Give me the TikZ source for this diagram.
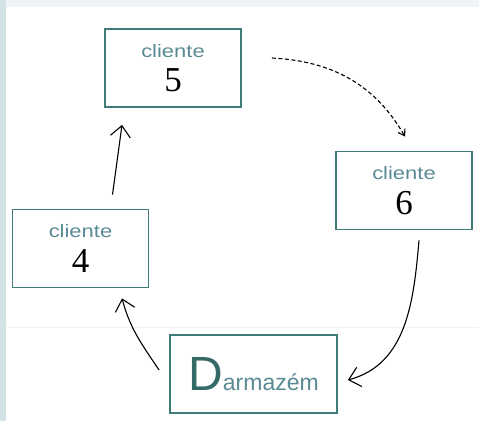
\documentclass[tikz,border=0pt]{standalone}
\usepackage{fontspec}
\setmainfont{Liberation Serif}
\newfontfamily\rotulo[FakeStretch=1.22]{Liberation Sans}
\newfontfamily\deposito{Liberation Sans}
\usetikzlibrary{arrows.meta}
\definecolor{verde}{HTML}{3E7B79}
\definecolor{cinza}{HTML}{5A8A94}
\definecolor{faixa}{HTML}{D3E3E5}
\definecolor{topo}{HTML}{EEF4F5}
\newcommand{\cliente}[1]{{\color{cinza}\rotulo\fontsize{18}{20}\selectfont cliente}\\[10pt]
  {\fontsize{35}{36}\selectfont #1}}

\begin{document}
\begin{tikzpicture}[x=1pt,y=1pt,
    caixa/.style={draw=verde,line width=1.8pt,minimum width=136pt,
      minimum height=78pt,align=center,inner sep=0pt},
    seta/.style={-{Straight Barb[length=11pt,width=20pt]},line width=1.1pt}]
  \useasboundingbox (0,0) rectangle (479,421);
  % fundo
  \fill[faixa] (0,0) rectangle (6,421);
  \fill[topo] (6,414) rectangle (479,421);
  \draw[topo] (6,94) -- (479,94);
  % clientes e deposito
  \node[caixa] (c5) at (173,353) {\cliente{5}};
  \node[caixa] (c6) at (404,230.5) {\cliente{6}};
  \node[caixa] (c4) at (80.5,172.5) {\cliente{4}};
  \node[caixa,minimum width=167pt] (arm) at (253.5,47)
    {{\color{verde!85!black}\deposito\fontsize{48}{48}\selectfont D}%
     {\color{cinza}\deposito\fontsize{23}{23}\selectfont armazém}};
  % rota
  \draw[seta] ([xshift=32pt,yshift=14pt]c4.north) -- ([xshift=-51pt,yshift=-17pt]c5.south);
  \draw[seta,dash pattern=on 4pt off 2.5pt,-{Straight Barb[length=6pt,width=8pt]}]
    ([xshift=30pt,yshift=10pt]c5.east) to[out=-3,in=120] ([xshift=1pt,yshift=14pt]c6.north);
  \draw[seta] ([xshift=15pt,yshift=-10pt]c6.south) to[out=-95,in=15] ([xshift=10pt,yshift=-6pt]arm.east);
  \draw[seta] ([xshift=-10pt,yshift=4pt]arm.west) to[out=124,in=-75] ([xshift=41.5pt,yshift=-10pt]c4.south);
\end{tikzpicture}
\end{document}
